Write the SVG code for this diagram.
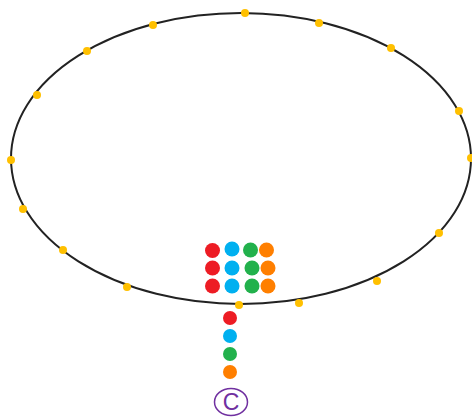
<svg xmlns="http://www.w3.org/2000/svg" width="472" height="417" viewBox="0 0 472 417">
<style>
.ring{fill:none;stroke:#222;stroke-width:2}
.y{fill:#FFC000}
.r{fill:#ED1C24}
.b{fill:#00B0F0}
.g{fill:#22B14C}
.o{fill:#FF7F00}
.lbl{font-family:"Liberation Sans",Arial,sans-serif;font-size:23px;fill:#7030A0;text-anchor:middle}
</style>
<rect width="472" height="417" fill="#fff"/>
<g id="connectors">
<ellipse class="ring" cx="241" cy="158.5" rx="230" ry="145.5"/>
</g>
<g id="ring-points">
<circle class="y" cx="245" cy="13" r="4"/>
<circle class="y" cx="153" cy="25" r="4"/>
<circle class="y" cx="87" cy="51" r="4"/>
<circle class="y" cx="37" cy="95" r="4"/>
<circle class="y" cx="11" cy="160" r="4"/>
<circle class="y" cx="23" cy="209" r="4"/>
<circle class="y" cx="63" cy="250" r="4"/>
<circle class="y" cx="127" cy="287" r="4"/>
<circle class="y" cx="239" cy="305" r="4"/>
<circle class="y" cx="299" cy="303" r="4"/>
<circle class="y" cx="377" cy="281" r="4"/>
<circle class="y" cx="439" cy="233" r="4"/>
<circle class="y" cx="471" cy="158" r="4"/>
<circle class="y" cx="459" cy="111" r="4"/>
<circle class="y" cx="391" cy="48" r="4"/>
<circle class="y" cx="319" cy="23" r="4"/>
</g>
<g id="grid">
<circle class="r" cx="212.5" cy="250.5" r="7.5"/>
<circle class="b" cx="232" cy="249" r="7.5"/>
<circle class="g" cx="250.5" cy="250" r="7.5"/>
<circle class="o" cx="266.5" cy="250" r="7.5"/>
<circle class="r" cx="212.5" cy="268" r="7.5"/>
<circle class="b" cx="232" cy="268" r="7.5"/>
<circle class="g" cx="252" cy="268" r="7.5"/>
<circle class="o" cx="268" cy="268" r="7.5"/>
<circle class="r" cx="212.5" cy="286" r="7.5"/>
<circle class="b" cx="232" cy="286" r="7.5"/>
<circle class="g" cx="252" cy="286" r="7.5"/>
<circle class="o" cx="268" cy="286" r="7.5"/>
</g>
<g id="column">
<circle class="r" cx="230" cy="318" r="7"/>
<circle class="b" cx="230" cy="336" r="7"/>
<circle class="g" cx="230" cy="354" r="7"/>
<circle class="o" cx="230" cy="372" r="7"/>
</g>
<g id="node-c">
<ellipse cx="231" cy="402" rx="16.5" ry="13.5" fill="none" stroke="#7030A0" stroke-width="1.5"/>
<text class="lbl" x="231" y="410">C</text>
</g>
</svg>
